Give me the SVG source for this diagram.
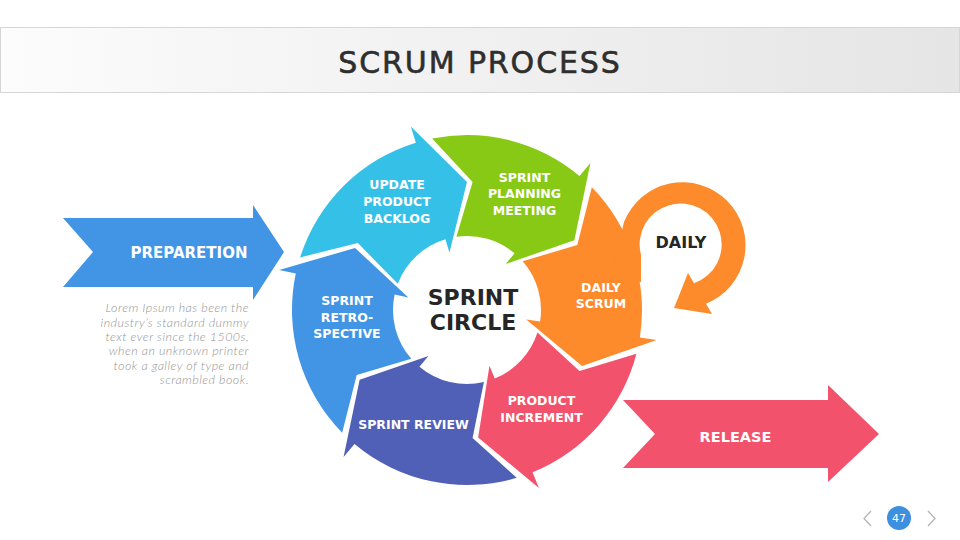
<svg xmlns="http://www.w3.org/2000/svg" width="960" height="540" viewBox="0 0 960 540">
<defs>
<linearGradient id="barGrad" x1="0" y1="0" x2="1" y2="0">
<stop offset="0" stop-color="#fcfcfc"/>
<stop offset="1" stop-color="#e5e5e5"/>
</linearGradient>
<style>
.lbl{font-family:"DejaVu Sans",sans-serif;font-weight:bold;font-size:12.5px;fill:#ffffff;text-anchor:middle}
.big{font-family:"DejaVu Sans",sans-serif;font-weight:bold;fill:#262626;text-anchor:middle}
.lorem{font-family:Lato,"Open Sans",sans-serif;font-style:italic;font-weight:300;font-size:12.5px;letter-spacing:0.45px;fill:#959595;text-anchor:end}
.nav{fill:none;stroke:#b5b5b5;stroke-width:1.3}
</style>
</defs>
<rect x="0" y="0" width="960" height="540" fill="#ffffff"/>

<g id="title">
<rect x="0.5" y="27.5" width="959" height="65" fill="url(#barGrad)" stroke="#d6d6d6" stroke-width="1"/>
<text x="480" y="73" font-family="DejaVu Sans, sans-serif" font-size="30" fill="#2e2e2e" stroke="#2e2e2e" stroke-width="0.6" text-anchor="middle" letter-spacing="1.9">SCRUM PROCESS</text>
</g>

<g id="preparation">
<path d="M63,218 L253,218 L253,205 L284,252 L253,300 L253,287 L63,287 L93,252 Z" fill="#4295E4"/>
<text class="lbl" x="189" y="258" style="font-size:15px">PREPARETION</text>
</g>

<g id="lorem">
<text class="lorem" x="249" y="312">Lorem Ipsum has been the</text>
<text class="lorem" x="249" y="326.5">industry’s standard dummy</text>
<text class="lorem" x="249" y="341">text ever since the 1500s,</text>
<text class="lorem" x="249" y="355">when an unknown printer</text>
<text class="lorem" x="249" y="369.5">took a galley of type and</text>
<text class="lorem" x="249" y="384">scrambled book.</text>
</g>

<g id="release">
<path d="M623,400 L828,400 L828,385 L879,434 L828,482 L828,468 L623,468 L655,434 Z" fill="#F2526C"/>
<text class="lbl" x="735.5" y="442" style="font-size:14.5px">RELEASE</text>
</g>

<g id="seg-update">
<path d="M300.10,257.38 A175 175 0 0 1 415.84,142.65 L410.86,126.39 L467,182 L449.46,252.62 L445.36,239.23 A74 74 0 0 0 397.82,283.72 L357.86,243.12 Z" fill="#35C1E7"/>
<text class="lbl" x="397" y="188.5">UPDATE</text>
<text class="lbl" x="397" y="205.5">PRODUCT</text>
<text class="lbl" x="397" y="222.5">BACKLOG</text>
</g>

<g id="seg-planning">
<path d="M432.11,138.51 A175 175 0 0 1 579.49,175.94 L590.42,162.92 L574.35,240.29 L505.57,264.04 L514.57,253.31 A74 74 0 0 0 456.45,236.76 L472.58,182.12 Z" fill="#88C916"/>
<text class="lbl" x="524.5" y="181.5">SPRINT</text>
<text class="lbl" x="524.5" y="197.5">PLANNING</text>
<text class="lbl" x="524.5" y="214.5">MEETING</text>
</g>

<g id="seg-daily">
<path d="M591.82,187.34 A175 175 0 0 1 639.85,337.38 L656.64,340.03 L582.05,366.11 L526.26,319.39 L540.09,321.58 A74 74 0 0 0 522.68,261.26 L577.29,245.03 Z" fill="#FD8A2B"/>
<text class="lbl" x="601" y="291.5">DAILY</text>
<text class="lbl" x="601" y="307.5">SCRUM</text>
</g>

<g id="seg-increment">
<path d="M636.43,353.82 A175 175 0 0 1 532.56,472.26 L538.93,488.02 L478.16,437.51 L489.48,365.63 L494.72,378.61 A74 74 0 0 0 537.46,332.62 L579.49,371.08 Z" fill="#F2526C"/>
<text class="lbl" x="541.5" y="404.5">PRODUCT</text>
<text class="lbl" x="541.5" y="421.5">INCREMENT</text>
</g>

<g id="seg-review">
<path d="M516.70,477.79 A175 175 0 0 1 354.51,444.06 L343.58,457.08 L359.65,379.71 L428.43,355.96 L419.43,366.69 A74 74 0 0 0 483.90,382.04 L472.58,437.88 Z" fill="#5060B6"/>
<text class="lbl" x="413.5" y="428.5">SPRINT REVIEW</text>
</g>

<g id="seg-retro">
<path d="M342.18,432.66 A175 175 0 0 1 295.82,273.62 L279.20,270.08 L355.05,247.94 L408.31,297.53 L394.62,294.61 A74 74 0 0 0 411.32,358.74 L356.71,374.97 Z" fill="#4295E4"/>
<text class="lbl" x="347" y="304.5">SPRINT</text>
<text class="lbl" x="347" y="321.5">RETRO-</text>
<text class="lbl" x="347" y="338">SPECTIVE</text>
</g>

<g id="center">
<text class="big" x="473" y="304.5" style="font-size:22px">SPRINT</text>
<text class="big" x="473" y="330" style="font-size:22px">CIRCLE</text>
</g>

<g id="connectors">
<path id="daily-loop" d="M624,222 A63 63 0 1 1 706,303.75 L712,314 L674,308 L688,273 L694,283.25 A41 41 0 1 0 641,255 L641,282 L610,280 Z" fill="#FD8A2B"/>
<text class="big" x="681" y="248.3" style="font-size:16px">DAILY</text>
</g>

<g id="pager">
<polyline class="nav" points="871,511 864,518.5 871,526"/>
<circle cx="899" cy="518" r="12" fill="#3D8FE0"/>
<text x="899" y="522" font-family="DejaVu Sans, sans-serif" font-size="11" fill="#ffffff" text-anchor="middle">47</text>
<polyline class="nav" points="928,511 935,518.5 928,526"/>
</g>
</svg>
